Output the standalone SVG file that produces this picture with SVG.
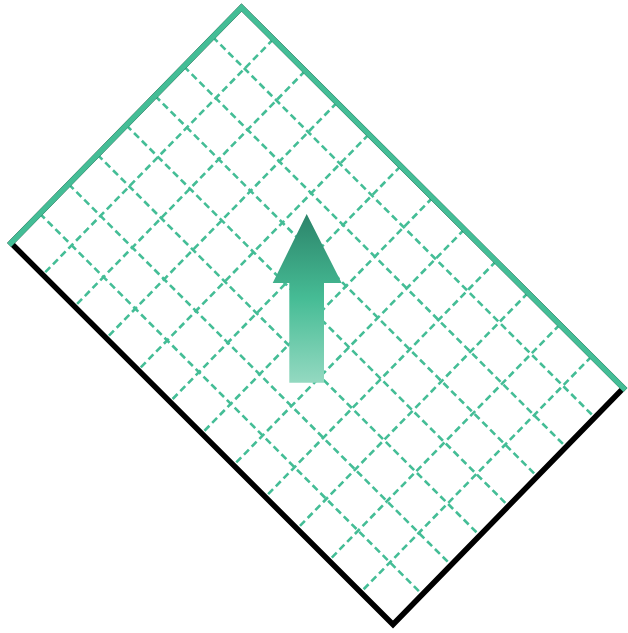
<svg xmlns="http://www.w3.org/2000/svg" width="628" height="633" viewBox="0 0 628 633">
<defs>
<linearGradient id="ag" x1="0" y1="214" x2="0" y2="383" gradientUnits="userSpaceOnUse">
<stop offset="0" stop-color="#2c846a"/>
<stop offset="0.5" stop-color="#46bc95"/>
<stop offset="1" stop-color="#94d9c1"/>
</linearGradient>
<style>
.grid{stroke:#44bd96;stroke-width:2.6;stroke-dasharray:7 4;fill:none}
.edge{fill:none;stroke-width:5.5;stroke-linejoin:miter;stroke-linecap:square}
</style>
</defs>
<rect width="628" height="633" fill="#ffffff"/>
<g id="grid">
<path class="grid" d="M39.81,213.56L421.81,594.06M68.63,184.13L450.63,564.63M97.44,154.69L479.44,535.19M126.25,125.25L508.25,505.75M155.06,95.81L537.06,476.31M183.88,66.38L565.88,446.88M212.69,36.94L594.69,417.44"/>
<path class="grid" d="M273.33,39.21L42.83,274.71M305.17,70.92L74.67,306.42M337,102.63L106.5,338.13M368.83,134.33L138.33,369.83M400.67,166.04L170.17,401.54M432.5,197.75L202,433.25M464.33,229.46L233.83,464.96M496.17,261.17L265.67,496.67M528,292.88L297.5,528.38M559.83,324.58L329.33,560.08M591.67,356.29L361.17,591.79"/>
</g>
<g id="frame">
<polygon class="edge" stroke="#000000" points="11,243 241.5,7.5 623.5,388 393,624.5"/>
<polyline class="edge" stroke="#44bd96" stroke-linecap="butt" points="11,243 241.5,7.5 623.5,388"/>
</g>
<g id="arrow">
<polygon fill="url(#ag)" points="306.7,214 341.7,283 324,283 324,382.7 289.3,382.7 289.3,283 272.7,283"/>
</g>
</svg>
